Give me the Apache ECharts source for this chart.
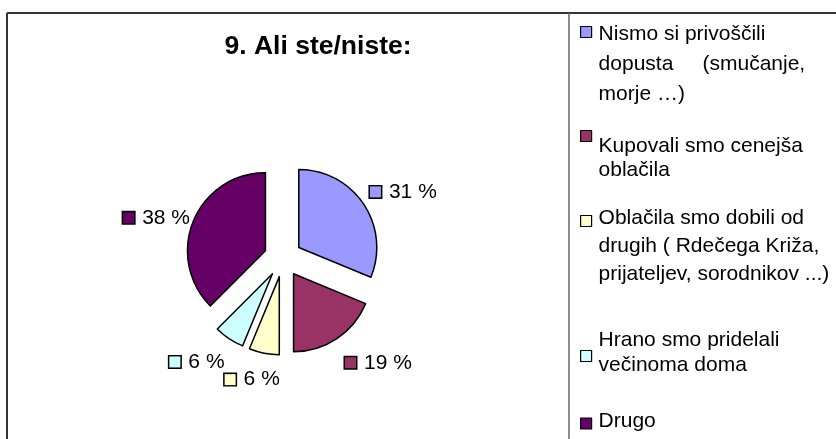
<!DOCTYPE html>
<html>
<head>
<meta charset="utf-8">
<script src="https://cdn.jsdelivr.net/npm/echarts@6/dist/echarts.min.js"></script>
<style>
	html, body { margin: 0; padding: 0; background: #fff; }
	#chart { width: 836px; height: 439px; }
</style>
</head>
<body>
<div id="chart"></div>

<script type="text/javascript">
	// 数据
	var categories = [
		'Nismo si privoščili dopusta (smučanje, morje …)',
		'Kupovali smo cenejša oblačila',
		'Oblačila smo dobili od drugih ( Rdečega Križa, prijateljev, sorodnikov ...)',
		'Hrano smo pridelali večinoma doma',
		'Drugo'
	];
	var values = [5, 3, 1, 1, 6];
	var legendLines = [
		['Nismo si privoščili', 'dopusta     (smučanje,', 'morje …)'],
		['Kupovali smo cenejša', 'oblačila'],
		['Oblačila smo dobili od', 'drugih ( Rdečega Križa,', 'prijateljev, sorodnikov ...)'],
		['Hrano smo pridelali', 'večinoma doma'],
		['Drugo']
	];
	var colors = ['#9999FF', '#993366', '#FFFFCC', '#CCFFFF', '#660066'];

	var FONT = 'Arial, "Liberation Sans", sans-serif';

	// 图例位置：图标中心 y、行高、文字块相对图标的偏移
	var legendBoxes = [
		{ icon: 32, lineHeight: 30, shift: 32 },
		{ icon: 136, lineHeight: 24, shift: 22 },
		{ icon: 221, lineHeight: 28, shift: 25 },
		{ icon: 358, lineHeight: 25, shift: -3 },
		{ icon: 424, lineHeight: 22, shift: -2 }
	];

	// 百分比标签位置（引导线长度、与引导线距离）
	var labelPlacement = [
		{ length: 22, dist: -12 },
		{ length: 29, dist: -8 },
		{ length: 27, dist: -21 },
		{ length: 28, dist: -11 },
		{ length: 8, dist: -4 }
	];

	var legends = categories.map(function (name, i) {
		var b = legendBoxes[i];
		var n = legendLines[i].length;
		var gap = Math.abs(2 * b.shift);
		var h = n * b.lineHeight + gap;
		return {
			data: [name],
			orient: 'vertical',
			left: 580,
			top: b.icon - h / 2,
			padding: 0,
			itemWidth: 11,
			itemHeight: 11,
			icon: 'rect',
			selectedMode: false,
			itemStyle: { borderColor: '#000', borderWidth: 1.2 },
			formatter: function () {
				var body = legendLines[i].map(function (l) { return '{t|' + l + '}'; }).join('\n');
				if (b.shift > 0) return '{g| }\n' + body;
				if (b.shift < 0) return body + '\n{g| }';
				return body;
			},
			textStyle: {
				fontSize: 21, color: '#000', fontFamily: FONT,
				rich: {
					t: { fontSize: 21, color: '#000', fontFamily: FONT, lineHeight: b.lineHeight, padding: [0, 0, 0, 2] },
					g: { fontSize: 2, lineHeight: gap, height: gap }
				}
			}
		};
	});

	var rich = { t: { fontSize: 21, color: '#000', fontFamily: FONT, padding: [0, 0, 0, 8] } };
	colors.forEach(function (c, i) {
		rich['s' + i] = { width: 11, height: 11, backgroundColor: c, borderColor: '#000', borderWidth: 1.5 };
	});

	var option = {
		animation: false,
		title: {
			text: '9. Ali ste/niste:',
			left: 313,
			top: 28,
			textAlign: 'center',
			textStyle: { fontSize: 26.5, fontWeight: 'bold', color: '#000', fontFamily: FONT }
		},
		legend: legends,
		graphic: [
			{ type: 'line', shape: { x1: 7, y1: 13, x2: 836, y2: 13 }, style: { stroke: '#333', lineWidth: 2 } },
			{ type: 'line', shape: { x1: 7, y1: 13, x2: 7, y2: 439 }, style: { stroke: '#333', lineWidth: 2 } },
			{ type: 'line', shape: { x1: 569, y1: 13, x2: 569, y2: 439 }, style: { stroke: '#666', lineWidth: 1.5 } }
		],
		series: [{
			type: 'pie',
			center: [283, 258],
			radius: 78,
			startAngle: 90,
			clockwise: true,
			selectedMode: 'multiple',
			selectedOffset: 19,
			avoidLabelOverlap: false,
			labelLayout: { hideOverlap: false },
			itemStyle: { borderColor: '#000', borderWidth: 1.5 },
			emphasis: { disabled: true },
			label: {
				show: true,
				position: 'outside',
				fontSize: 21,
				color: '#000',
				fontFamily: FONT,
				formatter: function (p) {
					return '{s' + p.dataIndex + '|}{t|' + Math.round(p.percent) + ' %}';
				},
				rich: rich
			},
			labelLine: { show: false, length2: 0 },
			data: values.map(function (v, i) {
				return {
					name: categories[i],
					value: v,
					selected: true,
					itemStyle: { color: colors[i] },
					label: { distanceToLabelLine: labelPlacement[i].dist },
					labelLine: { length: labelPlacement[i].length }
				};
			})
		}]
	};

	var chart = echarts.init(document.getElementById('chart'));
	chart.setOption(option);
</script>
</body>
</html>
